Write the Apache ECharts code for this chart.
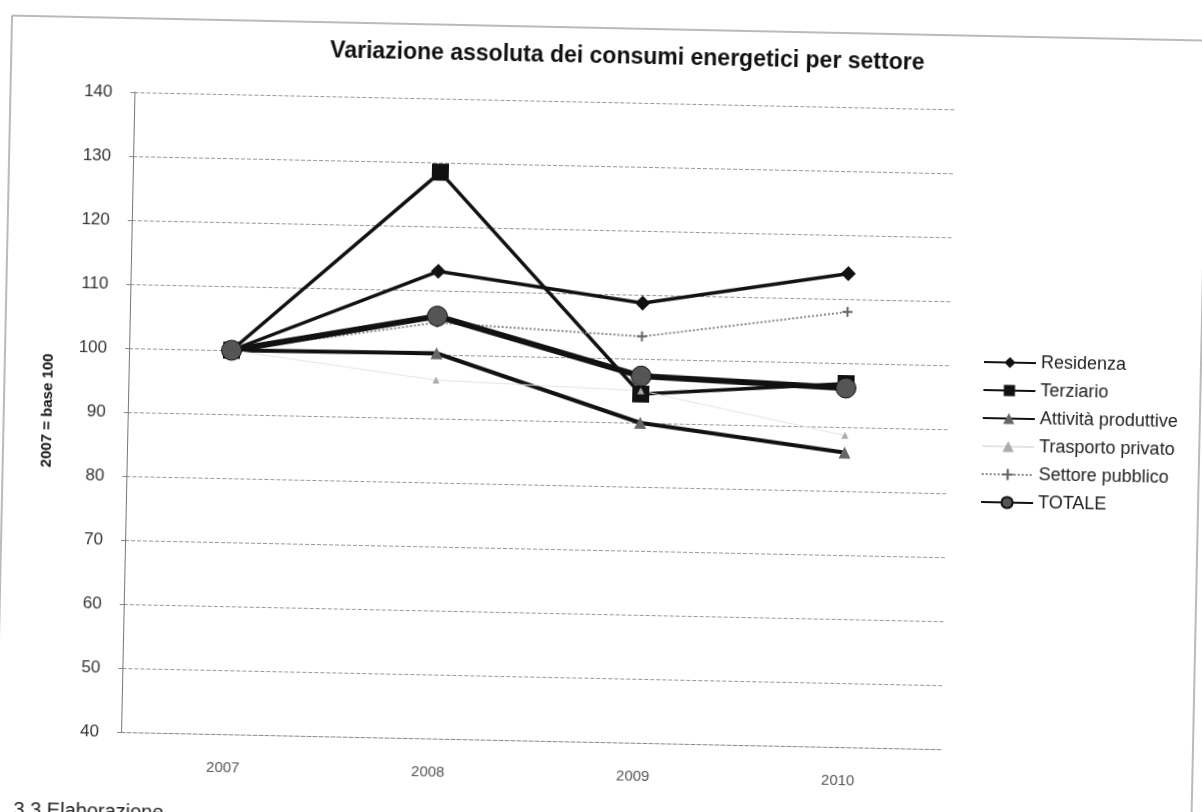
<!DOCTYPE html>
<html lang="it">
<head>
  <meta charset="utf-8">
  <style>
    html, body { margin: 0; height: 100%; overflow: hidden; background: #fff; }
    /* the scanned chart is tilted a little, so the whole drawing is turned with it */
    #container {
      position: absolute; left: -20px; top: -20px;
      width: 1242px; height: 852px;
      transform: rotate(1.2deg); transform-origin: 50% 50%;
    }
  </style>
</head>
<body>
  <div id="container"></div>

  <script src="https://cdn.jsdelivr.net/npm/echarts@6/dist/echarts.min.js"></script>
  <script>
    var anni = ['2007', '2008', '2009', '2010'];

    var residenza = [100, 113, 108.7, 114];
    var terziario = [100, 128.5, 94.5, 96.8];
    var attivitaProduttive = [100, 100.2, 90, 86];
    var trasportoPrivato = [100, 96, 95, 88.7];
    var settorePubblico = [100, 105, 103.5, 108];
    var totale = [100, 106, 97.3, 96.1];

    var plusPath = 'path://M4,0h2v4h4v2h-4v4h-2v-4h-4v-2h4z';

    var myChart = echarts.init(document.getElementById('container'), null, { renderer: 'canvas' });

    var option = {
      animation: false,
      textStyle: { fontFamily: 'Liberation Sans, Arial, sans-serif' },
      title: {
        text: 'Variazione assoluta dei consumi energetici per settore',
        left: 635,
        textAlign: 'center',
        top: 60,
        textStyle: { fontSize: 23, fontWeight: 'bold', color: '#111' }
      },
      legend: {
        orient: 'vertical',
        left: 1002,
        top: 365,
        itemWidth: 52,
        itemHeight: 14,
        itemGap: 10,
        padding: 0,
        textStyle: { fontSize: 18, color: '#222' },
        data: ['Residenza', 'Terziario', 'Attività produttive', 'Trasporto privato', 'Settore pubblico', 'TOTALE']
      },
      grid: { left: 148, right: 274, top: 122, bottom: 90 },
      xAxis: {
        type: 'category',
        data: anni,
        boundaryGap: true,
        axisLine: { show: true, lineStyle: { color: '#888', type: 'dashed' } },
        axisTick: { show: false },
        axisLabel: { margin: 26, fontSize: 15, color: '#555' }
      },
      yAxis: {
        type: 'value',
        min: 40,
        max: 140,
        interval: 10,
        name: '2007 = base 100',
        nameLocation: 'middle',
        nameGap: 73,
        nameTextStyle: { fontSize: 15, fontWeight: 'bold', color: '#111' },
        axisLine: { show: true, lineStyle: { color: '#777' } },
        axisTick: { show: true, length: 4, lineStyle: { color: '#888' } },
        axisLabel: { margin: 22, fontSize: 17, color: '#333' },
        splitLine: { lineStyle: { color: '#999', type: 'dashed', width: 1 } }
      },
      graphic: [
        {
          type: 'rect',
          shape: { x: 24, y: 48, width: 1196, height: 830 },
          style: { fill: 'none', stroke: '#777', lineWidth: 1 },
          silent: true
        },
        {
          type: 'text',
          left: 42,
          top: 832,
          style: { text: '3.3 Elaborazione', fontSize: 20, fill: '#222', fontFamily: 'Liberation Sans, Arial, sans-serif' }
        }
      ],
      series: [
        {
          name: 'Residenza',
          type: 'line',
          data: residenza,
          symbol: 'diamond',
          symbolSize: 15,
          itemStyle: { color: '#111' },
          lineStyle: { color: '#111', width: 3.5 }
        },
        {
          name: 'Terziario',
          type: 'line',
          data: terziario,
          symbol: 'rect',
          symbolSize: 17,
          itemStyle: { color: '#111' },
          lineStyle: { color: '#111', width: 3.5 }
        },
        {
          name: 'Attività produttive',
          type: 'line',
          data: attivitaProduttive,
          symbol: 'triangle',
          symbolSize: 12,
          itemStyle: { color: '#666' },
          lineStyle: { color: '#111', width: 4 }
        },
        {
          name: 'Trasporto privato',
          type: 'line',
          data: trasportoPrivato,
          symbol: 'triangle',
          symbolSize: 7,
          itemStyle: { color: '#aaa' },
          lineStyle: { color: '#e4e4e4', width: 1 }
        },
        {
          name: 'Settore pubblico',
          type: 'line',
          data: settorePubblico,
          symbol: plusPath,
          symbolSize: 10,
          itemStyle: { color: '#666' },
          lineStyle: { color: '#888', width: 2, type: 'dotted' }
        },
        {
          name: 'TOTALE',
          type: 'line',
          data: totale,
          symbol: 'circle',
          symbolSize: 20,
          itemStyle: { color: '#555', borderColor: '#111', borderWidth: 1 },
          lineStyle: { color: '#111', width: 6 }
        }
      ]
    };

    myChart.setOption(option);
    window.addEventListener('resize', myChart.resize);
  </script>
</body>
</html>
